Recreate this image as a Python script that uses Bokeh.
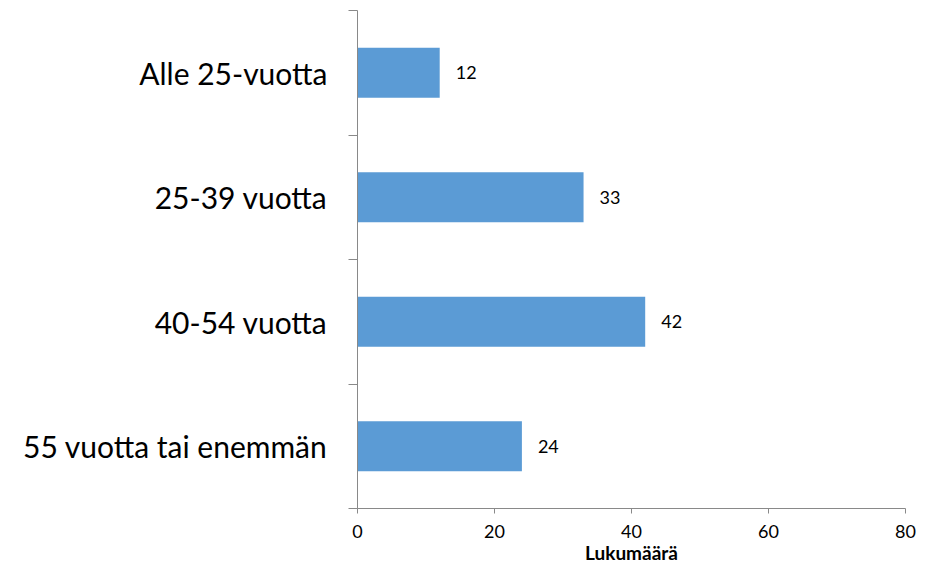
from bokeh.plotting import figure
from bokeh.models import Range1d, FixedTicker, ColumnDataSource
from bokeh.core.properties import value
from bokeh.embed import file_html
from bokeh.resources import INLINE

categories = ["Alle 25-vuotta", "25-39 vuotta", "40-54 vuotta", "55 vuotta tai enemmän"]
counts = [12, 33, 42, 24]
x_ticks = [0, 20, 40, 60, 80]
x_label = "Lukumäärä"

FONT = "Lato"
n = len(categories)
pos = [n - i - 0.5 for i in range(n)]
src = ColumnDataSource(dict(y=pos, v=counts, lab=[str(c) for c in counts]))

p = figure(width=919, height=566, output_backend="svg", toolbar_location=None,
           x_range=Range1d(x_ticks[0], x_ticks[-1]), y_range=Range1d(0, n),
           min_border_left=357, min_border_right=14, min_border_top=10,
           min_border_bottom=55)
p.outline_line_color = None
p.grid.visible = False
p.background_fill_color = "white"
p.border_fill_color = "white"

p.hbar(y="y", right="v", left=0, height=0.4, source=src,
       fill_color="#5B9BD5", line_color=None)
p.text(x="v", y="y", text="lab", source=src, x_offset=16,
       text_baseline="middle", text_align="left",
       text_font=value(FONT), text_font_size="18px", text_color="#000000")

AX = "#898989"
# x axis
xa = p.xaxis[0]
xa.ticker = FixedTicker(ticks=x_ticks, minor_ticks=[])
xa.axis_line_color = AX
xa.major_tick_line_color = AX
xa.major_tick_out = 5
xa.major_tick_in = 0
xa.minor_tick_line_color = None
xa.major_label_text_font = FONT
xa.major_label_text_font_size = "18px"
xa.major_label_text_color = "#000000"
xa.major_label_standoff = 11
xa.axis_label = x_label
xa.axis_label_text_font = FONT
xa.axis_label_text_font_style = "bold"
xa.axis_label_text_font_size = "19px"
xa.axis_label_text_color = "#000000"
xa.axis_label_standoff = 0

# y axis: labels at category centres, ticks at boundaries
ya = p.yaxis[0]
ya.ticker = FixedTicker(ticks=pos, minor_ticks=list(range(n + 1)))
ya.major_label_overrides = {pp: c for pp, c in zip(pos, categories)}
ya.axis_line_color = AX
ya.major_tick_line_color = None
ya.major_tick_out = 0
ya.major_tick_in = 0
ya.minor_tick_line_color = AX
ya.minor_tick_out = 9
ya.minor_tick_in = 0
ya.major_label_text_font = FONT
ya.major_label_text_font_size = "30px"
ya.major_label_text_color = "#000000"
ya.major_label_standoff = 21

open("out.html", "w").write(file_html(p, INLINE))
